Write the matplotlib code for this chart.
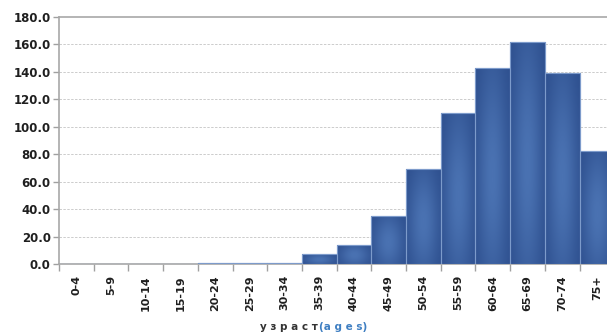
import matplotlib
matplotlib.use("Agg")
import matplotlib.pyplot as plt
import numpy as np

categories = ["0-4", "5-9", "10-14", "15-19", "20-24", "25-29", "30-34", "35-39",
              "40-44", "45-49", "50-54", "55-59", "60-64", "65-69", "70-74", "75+"]
counts = [0, 0, 0, 0, 1, 1, 1, 7, 14, 35, 69, 110, 143, 162, 139, 82]
y_ticks = [0, 20, 40, 60, 80, 100, 120, 140, 160, 180]

fig = plt.figure(figsize=(6.07, 3.36), dpi=100)
n_slots = 17
ax = fig.add_axes([59 / 607, 1 - 264 / 336, n_slots * 34.7 / 607, 247 / 336])

x = np.arange(len(categories))
bars = ax.bar(x, counts, width=1.0, align="edge", color="#3b5f9e",
              edgecolor="#7d9bcb", linewidth=0.8, zorder=3)

# soft radial shading inside each bar
gy, gx = np.mgrid[0:1:80j, 0:1:40j]
shade = np.exp(-(((gx - 0.5) / 0.45) ** 2 + ((gy - 0.45) / 0.6) ** 2))
cmap = matplotlib.colors.LinearSegmentedColormap.from_list("b", ["#2f5190", "#4a72b2"])
for b, v in zip(bars, counts):
    if v <= 0:
        continue
    im = ax.imshow(shade, cmap=cmap, extent=[b.get_x(), b.get_x() + 1, 0, v],
                   aspect="auto", origin="lower", zorder=3.5, interpolation="bilinear")
    im.set_clip_path(b)
    edge = plt.Rectangle((b.get_x(), 0), 1, v, fill=False, edgecolor="#7d9bcb",
                         linewidth=0.8, zorder=4)
    ax.add_patch(edge)

ax.set_xlim(0, n_slots)
ax.set_ylim(0, 180)

ax.set_yticks(y_ticks)
ax.set_yticklabels([f"{t:.1f}" for t in y_ticks], fontsize=8.5, fontweight="bold",
                   color="#1f1f1f")
ax.set_xticks(x + 0.5)
ax.set_xticklabels(categories, rotation=90, fontsize=8, fontweight="bold", color="#1f1f1f")
ax.set_xticks(np.arange(0, n_slots + 1), minor=True)
ax.tick_params(axis="x", which="major", length=0, pad=8)
ax.tick_params(axis="x", which="minor", length=5, color="#a0a0a0", width=1)
ax.tick_params(axis="y", length=4, color="#a0a0a0", width=1, pad=2)

for t in y_ticks[1:-1]:
    ax.axhline(t, color="#cccccc", linestyle=(0, (2.5, 1.5)), linewidth=0.7, zorder=1)

for side in ["left", "bottom", "top"]:
    ax.spines[side].set_color("#a8a8a8")
    ax.spines[side].set_linewidth(1.2)
ax.spines["right"].set_visible(False)

fig.text(0.523, 0.027, "у з р а с т", fontsize=7.5, fontweight="bold", color="#333333",
         ha="right", va="center")
fig.text(0.525, 0.027, "(a g e s)", fontsize=7.5, fontweight="bold", color="#3f7fc2",
         ha="left", va="center")

fig.savefig("out.png", dpi=100)
